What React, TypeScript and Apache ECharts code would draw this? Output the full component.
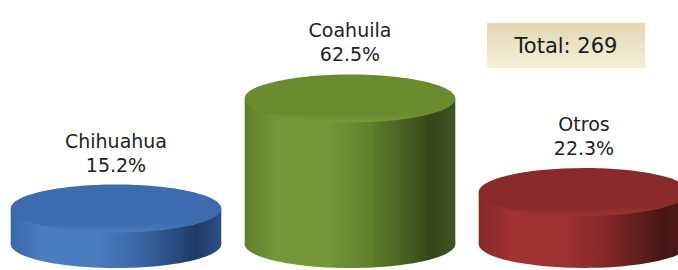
import React, { useEffect, useRef } from "react";
import * as echarts from "echarts";

const categories = ["Chihuahua", "Coahuila", "Otros"];
const shares = [15.2, 62.5, 22.3];
const totalCount = 269;

const palettes = [
  { top: "#3d6cae", rim: "#4a7bbd", light: "#4a7cc0", mid: "#3a68a8", dark: "#1f3b68", edge: "#2c5088" },
  { top: "#6a8b2e", rim: "#789a38", light: "#74973a", mid: "#5f7f2a", dark: "#34471b", edge: "#3e5420" },
  { top: "#8a2a2a", rim: "#9a3333", light: "#a03232", mid: "#852828", dark: "#471515", edge: "#561a1a" },
];

export default function App() {
  const ref = useRef<HTMLDivElement>(null);
  useEffect(() => {
    const chart = echarts.init(ref.current!, undefined, { renderer: "svg" });
    const fontFamily = "DejaVu Sans";
    chart.setOption({
      animation: false,
      backgroundColor: "#ffffff",
      grid: { left: 0, right: 0, top: 11, bottom: 26 },
      xAxis: { type: "value", min: -0.4957, max: 2.4017, show: false },
      yAxis: { type: "value", min: 0, max: 100, show: false },
      graphic: [
        {
          type: "group",
          left: 487,
          top: 23,
          children: [
            {
              type: "rect",
              shape: { x: 0, y: 0, width: 158, height: 45 },
              style: {
                fill: new echarts.graphic.LinearGradient(0, 0, 0, 1, [
                  { offset: 0, color: "#e2d7b4" },
                  { offset: 1, color: "#f7eed8" },
                ]),
              },
            },
            {
              type: "text",
              style: {
                text: "Total: " + totalCount,
                x: 79,
                y: 23,
                align: "center",
                verticalAlign: "middle",
                fontFamily,
                fontSize: 21,
                fill: "#1a1a1a",
              },
            },
          ],
        },
      ],
      series: [
        {
          type: "custom",
          data: shares.map((v, i) => [i, v]),
          renderItem: (params: any, api: any) => {
            const idx = params.dataIndex;
            const val = api.value(1);
            const base = api.coord([idx, 0]);
            const top = api.coord([idx, val]);
            const bandW = api.size([1, 0])[0];
            const w = bandW * 0.9;
            const rx = w / 2;
            const ry = 24;
            const cx = base[0];
            const p = palettes[idx];
            const side = new echarts.graphic.LinearGradient(0, 0, 1, 0, [
              { offset: 0, color: p.mid },
              { offset: 0.15, color: p.light },
              { offset: 0.4, color: p.light },
              { offset: 0.6, color: p.mid },
              { offset: 0.88, color: p.dark },
              { offset: 1, color: p.edge },
            ]);
            const topFill = new echarts.graphic.LinearGradient(0, 0, 0, 1, [
              { offset: 0, color: p.top },
              { offset: 0.8, color: p.top },
              { offset: 1, color: p.rim },
            ]);
            return {
              type: "group",
              children: [
                { type: "ellipse", shape: { cx, cy: base[1], rx, ry }, style: { fill: side } },
                {
                  type: "rect",
                  shape: { x: cx - rx, y: top[1], width: w, height: base[1] - top[1] },
                  style: { fill: side },
                },
                { type: "ellipse", shape: { cx, cy: top[1], rx, ry }, style: { fill: topFill } },
                {
                  type: "ellipse",
                  shape: { cx, cy: top[1] - 3, rx: rx - 10, ry: ry - 5 },
                  style: { fill: p.top },
                },
                {
                  type: "text",
                  style: {
                    text: categories[idx] + "\n" + val.toFixed(1) + "%",
                    x: cx,
                    y: top[1] - ry - 8,
                    align: "center",
                    verticalAlign: "bottom",
                    fontFamily,
                    fontSize: 19,
                    lineHeight: 24,
                    fill: "#222222",
                  },
                },
              ],
            };
          },
        },
      ],
    });
    return () => chart.dispose();
  }, []);
  return (
    <div
      ref={ref}
      style={{ position: "fixed", left: 0, top: 0, width: 678, height: 270, background: "#fff" }}
    />
  );
}
